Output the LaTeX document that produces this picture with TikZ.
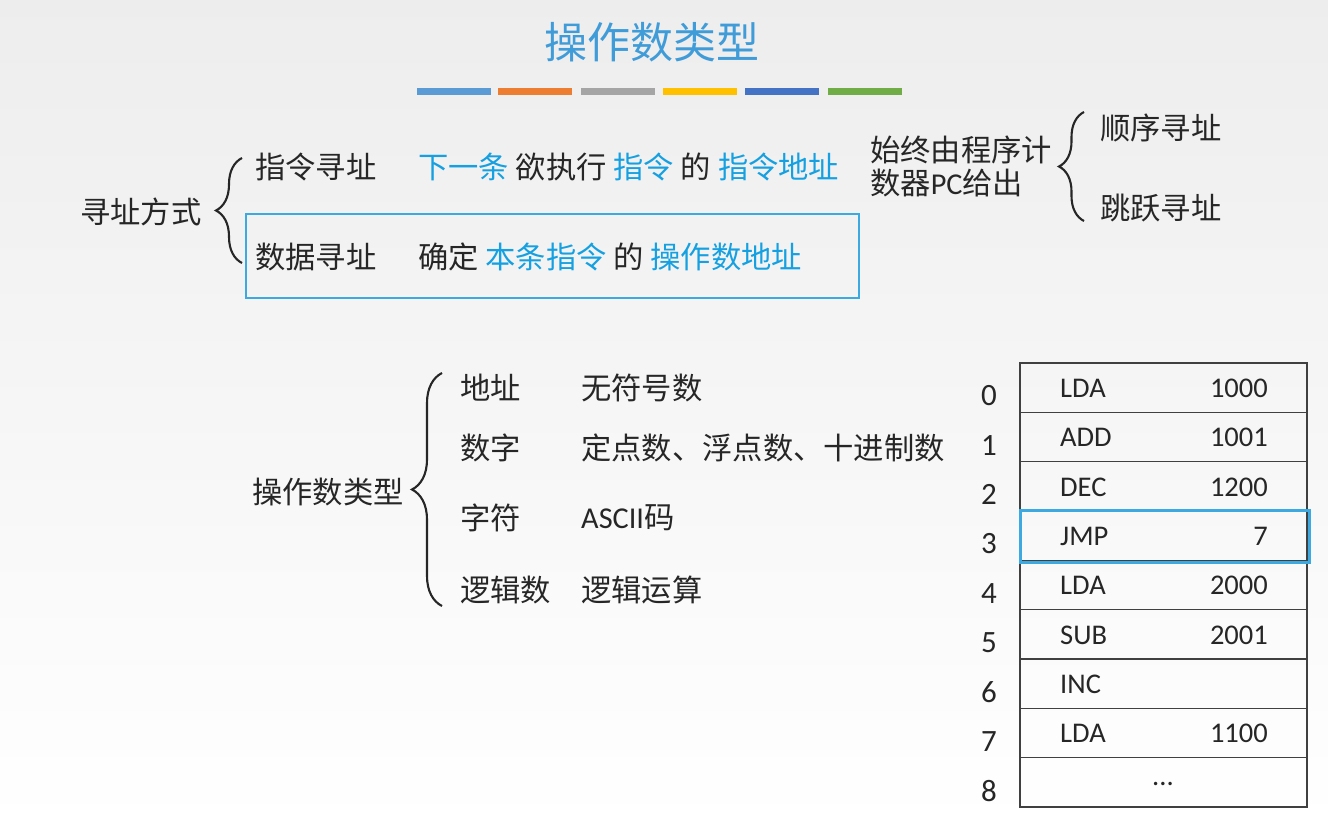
\documentclass[tikz,border=0pt]{standalone}
\usepackage{fontspec}
\setmainfont{Carlito}
\newfontfamily\cjk{Noto Sans CJK SC}
\usetikzlibrary{decorations.pathreplacing}
\definecolor{cy}{RGB}{20,160,225}
\definecolor{titleblue}{RGB}{64,156,216}
\definecolor{boxcy}{RGB}{60,170,225}
\definecolor{b1}{HTML}{5B9BD5}
\definecolor{b2}{HTML}{ED7D31}
\definecolor{b3}{HTML}{A5A5A5}
\definecolor{b4}{HTML}{FFC000}
\definecolor{b5}{HTML}{4472C4}
\definecolor{b6}{HTML}{70AD47}
\begin{document}
\begin{tikzpicture}[x=1pt,y=-1pt,
  zh/.style={font=\cjk\fontsize{30.3}{34}\selectfont, anchor=west, inner sep=0pt, text=black!85},
  bracestyle/.style={decorate, decoration={brace, amplitude=#1}, line width=2.1pt, black!85},
  cell/.style={draw=black!75, line width=1.2pt, minimum width=287pt, minimum height=49.33pt, inner sep=0pt},
  tt/.style={font=\fontsize{28.5}{30}\selectfont, inner sep=0pt, text=black!85},
  idx/.style={font=\fontsize{31}{32}\selectfont, inner sep=0pt, text=black!85},
  bar/.style={inner sep=0pt, minimum width=74pt, minimum height=7pt}]
\shade[top color=black!7, bottom color=white] (0,0) rectangle (1328,826);
\useasboundingbox (0,0) rectangle (1328,826);

% title
\node[font=\cjk\fontsize{43}{48}\selectfont, text=titleblue, inner sep=0pt] (title) at (652,42) {操作数类型};
\node[bar, fill=b1] (bar1) at (454,92) {};
\node[bar, fill=b2] (bar2) at (534.5,92) {};
\node[bar, fill=b3] (bar3) at (618,92) {};
\node[bar, fill=b4] (bar4) at (700,92) {};
\node[bar, fill=b5] (bar5) at (782,92) {};
\node[bar, fill=b6] (bar6) at (865,92) {};

% addressing
\node[zh] (xzfs) at (80,212) {寻址方式};
\coordinate (br1t) at (242,158);
\coordinate (br1b) at (242,263);
\draw[bracestyle=26pt] (br1b) -- (br1t);
\node[zh] (zlxz) at (255,167) {指令寻址};
\node[zh] (zlxzd) at (418,167) {{\color{cy}下一条} 欲执行 {\color{cy}指令} 的 {\color{cy}指令地址}};
\node[draw=boxcy, line width=1.2pt, minimum width=613pt, minimum height=84pt, inner sep=0pt] (box) at (552.5,256) {};
\node[zh] (sjxz) at (255,257) {数据寻址};
\node[zh] (sjxzd) at (418,257) {确定 {\color{cy}本条指令} 的 {\color{cy}操作数地址}};

\node[zh] (pc1) at (870,150) {始终由程序计};
\node[zh] (pc2) at (870,183) {数器{\fontspec{Carlito}PC}给出};
\coordinate (br2t) at (1084,112);
\coordinate (br2b) at (1084,221);
\draw[bracestyle=25pt] (br2b) -- (br2t);
\node[zh] (sxxz) at (1100,128) {顺序寻址};
\node[zh] (tyxz) at (1100,208) {跳跃寻址};

% operand types
\node[zh] (czslx) at (252,492) {操作数类型};
\coordinate (br3t) at (442,373);
\coordinate (br3b) at (442,606);
\draw[bracestyle=30pt] (br3b) -- (br3t);
\node[zh] (dz) at (460,388) {地址};
\node[zh] (dzd) at (581,388) {无符号数};
\node[zh] (sz) at (460,448) {数字};
\node[zh] (szd) at (581,448) {定点数、浮点数、十进制数};
\node[zh] (zf) at (460,518) {字符};
\node[zh] (zfd) at (581,518) {{\fontspec{Carlito}ASCII}码};
\node[zh] (ljs) at (460,590) {逻辑数};
\node[zh] (ljsd) at (581,590) {逻辑运算};

% memory table
\foreach \i/\op/\num in {0/LDA/1000,1/ADD/1001,2/DEC/1200,3/JMP/7,4/LDA/2000,5/SUB/2001,6/INC/,7/LDA/1100,8//}{
  \node[cell] (r\i) at (1163.5,{387.67+49.33*\i}) {};
  \node[tt, anchor=west] (op\i) at (1060,{388.5+49.33*\i}) {\op};
  \node[tt, anchor=east] (num\i) at (1268,{388.5+49.33*\i}) {\num};
  \node[idx] (i\i) at (989,{396+49.33*\i}) {\i};
}
\node[tt] (dots) at (1163,{784}) {...};
\node[draw=boxcy, line width=3pt, minimum width=289pt, minimum height=52pt, inner sep=0pt] (hl) at (1164.5,536) {};
\end{tikzpicture}
\end{document}
